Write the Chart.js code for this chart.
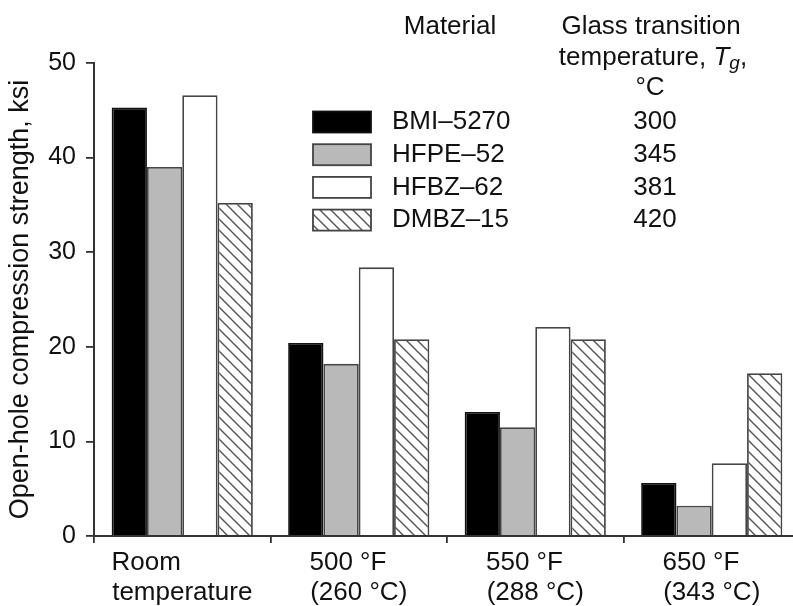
<!DOCTYPE html>
<html lang="en">
<head>
<meta charset="UTF-8">
<title>Open-hole compression strength</title>
<style>
  body { margin: 0; background: #fff; overflow: hidden; }
  #chart { display: block; }
</style>
</head>
<body>
<canvas id="chart" width="800" height="606"></canvas>
<script src="https://cdn.jsdelivr.net/npm/chart.js"></script>
<script>
// data
const conditions = [['Room', 'temperature'], ['500 °F', '(260 °C)'], ['550 °F', '(288 °C)'], ['650 °F', '(343 °C)']];
const materials = ['BMI–5270', 'HFPE–52', 'HFBZ–62', 'DMBZ–15'];
const tgValues = ['300', '345', '381', '420'];
const bmi5270 = [45.3, 20.4, 13.1, 5.6];
const hfpe52 = [39.0, 18.2, 11.5, 3.2];
const hfbz62 = [46.6, 28.4, 22.1, 7.7];
const dmbz15 = [35.2, 20.8, 20.8, 17.2];
const yTicks = [0, 10, 20, 30, 40, 50];

const FONT = "'Liberation Sans', Arial, Helvetica, sans-serif";
const TEXT = '#111';
Chart.defaults.font.family = FONT;

// diagonal hatch for DMBZ-15
function makeHatch() {
    const s = 11;
    const tile = document.createElement('canvas');
    tile.width = s; tile.height = s;
    const c = tile.getContext('2d');
    c.fillStyle = '#fff';
    c.fillRect(0, 0, s, s);
    c.strokeStyle = '#555';
    c.lineWidth = 1.4;
    c.beginPath();
    c.moveTo(0, 0); c.lineTo(s, s);
    c.moveTo(s - 2, -2); c.lineTo(s + 2, 2);
    c.moveTo(-2, s - 2); c.lineTo(2, s + 2);
    c.stroke();
    return c.createPattern(tile, 'repeat');
}
const hatch = makeHatch();

// lines in each category label are left aligned, so pad the short ones
const measure = document.createElement('canvas').getContext('2d');
measure.font = '26px ' + FONT;
function padLines(lines) {
    const w = Math.max(...lines.map(l => measure.measureText(l).width));
    return lines.map(l => {
        let s = l;
        while (measure.measureText(s + ' ').width <= w + 3) s += ' ';
        return s;
    });
}

// legend drawn as the table in the original
const legendTable = {
    id: 'legendTable',
    afterDraw(chart) {
        const ctx = chart.ctx;
        ctx.save();
        ctx.fillStyle = TEXT;
        ctx.textBaseline = 'middle';
        ctx.textAlign = 'center';
        ctx.font = '26px ' + FONT;
        ctx.fillText('Material', 450, 27);
        ctx.fillText('Glass transition', 651, 27);
        ctx.fillText('°C', 650, 88);

        // "temperature, Tg,"
        const parts = [
            ['temperature, ', '26px ' + FONT, 0],
            ['T', 'italic 26px ' + FONT, 0],
            ['g', 'italic 19px ' + FONT, 6],
            [',', '26px ' + FONT, 0]
        ];
        let total = 0;
        parts.forEach(p => { ctx.font = p[1]; total += ctx.measureText(p[0]).width; });
        let x = 653 - total / 2;
        ctx.textAlign = 'left';
        parts.forEach(p => {
            ctx.font = p[1];
            ctx.fillText(p[0], x, 58 + p[2]);
            x += ctx.measureText(p[0]).width;
        });

        ctx.font = '26px ' + FONT;
        chart.data.datasets.forEach((ds, i) => {
            const y = 122 + i * 32.7;
            ctx.fillStyle = ds.backgroundColor;
            ctx.fillRect(313, y - 10.5, 58, 21);
            ctx.strokeStyle = ds.borderColor;
            ctx.lineWidth = 1.8;
            ctx.strokeRect(313, y - 10.5, 58, 21);
            ctx.fillStyle = TEXT;
            ctx.textAlign = 'left';
            ctx.fillText(materials[i], 392, y);
            ctx.textAlign = 'center';
            ctx.fillText(tgValues[i], 655, y);
        });
        ctx.restore();
    }
};

new Chart(document.getElementById('chart'), {
    type: 'bar',
    data: {
        labels: conditions.map(padLines),
        datasets: [
            { label: materials[0], data: bmi5270, backgroundColor: '#000', borderColor: '#111' },
            { label: materials[1], data: hfpe52, backgroundColor: '#b9b9b9', borderColor: '#444' },
            { label: materials[2], data: hfbz62, backgroundColor: '#fff', borderColor: '#444' },
            { label: materials[3], data: dmbz15, backgroundColor: hatch, borderColor: '#444' }
        ]
    },
    options: {
        responsive: false,
        animation: false,
        layout: { padding: { top: 63, left: 0, right: 0, bottom: 0 } },
        datasets: { bar: { categoryPercentage: 0.8, barPercentage: 1.0, borderWidth: 1.8 } },
        plugins: { legend: { display: false }, tooltip: { enabled: false } },
        scales: {
            x: {
                grid: { offset: true, drawOnChartArea: false, tickLength: 7, color: '#333', lineWidth: 1.8 },
                border: { color: '#333', width: 2 },
                ticks: { color: TEXT, font: { size: 26, lineHeight: 1.15 }, padding: 5, maxRotation: 0, autoSkip: false },
                afterFit(s) { s.height = 70; }
            },
            y: {
                min: 0,
                max: 50,
                afterBuildTicks(s) { s.ticks = yTicks.map(v => ({ value: v })); },
                grid: { drawOnChartArea: false, tickLength: 8, color: '#333', lineWidth: 1.8 },
                border: { color: '#333', width: 2 },
                ticks: { color: TEXT, font: { size: 25 }, padding: 10 },
                title: {
                    display: true,
                    text: 'Open-hole compression strength, ksi',
                    color: TEXT,
                    font: { size: 27 },
                    padding: { top: 4, bottom: 0 }
                },
                afterFit(s) { s.width = 94; }
            }
        }
    },
    plugins: [legendTable]
});
</script>
</body>
</html>
